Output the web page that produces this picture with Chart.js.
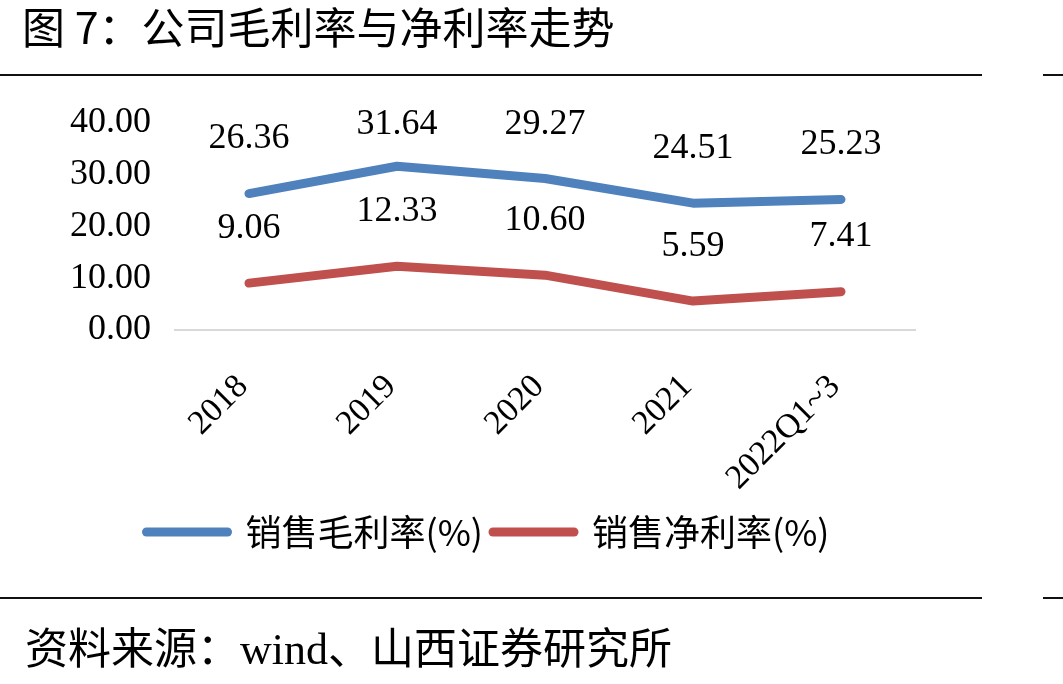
<!DOCTYPE html>
<html>
<head>
<meta charset="utf-8">
<script src="https://cdn.jsdelivr.net/npm/chart.js@4/dist/chart.umd.min.js"></script>
<style>
html,body{margin:0;padding:0;background:#fff;width:1063px;height:684px;overflow:hidden;}
#wrap{position:relative;width:1063px;height:684px;}
#chart{position:absolute;left:0;top:0;}
.title{position:absolute;left:22px;top:-2px;font-family:"Noto Sans CJK SC";font-size:43px;line-height:54px;color:#000;white-space:nowrap;}
.rule{position:absolute;height:2px;background:#111;}
.source{position:absolute;left:25px;top:618px;font-family:"Noto Sans CJK SC";font-size:43px;line-height:54px;color:#000;white-space:nowrap;}
.source .lat{font-family:"Liberation Serif";font-size:44px;}
</style>
</head>
<body>
<div id="wrap">
  <canvas id="chart" width="1063" height="684"></canvas>
  <div class="title">图 7：公司毛利率与净利率走势</div>
  <div class="rule" style="left:0;top:74px;width:982px;"></div>
  <div class="rule" style="left:1043px;top:74px;width:20px;"></div>
  <div class="rule" style="left:0;top:597px;width:982px;"></div>
  <div class="rule" style="left:1043px;top:597px;width:20px;"></div>
  <div class="source">资料来源：<span class="lat">wind</span>、山西证券研究所</div>
</div>
<script>
const categories = ['2018', '2019', '2020', '2021', '2022Q1~3'];
const grossMargin = [26.36, 31.64, 29.27, 24.51, 25.23];
const netMargin = [9.06, 12.33, 10.60, 5.59, 7.41];
const seriesNames = ['销售毛利率(%)', '销售净利率(%)'];
const seriesColors = ['#4F81BD', '#C0504D'];
const yMin = 0, yMax = 40, yStep = 10;

const dataLabels = {
  id: 'dataLabels',
  afterDatasetsDraw(chart) {
    const ctx = chart.ctx;
    ctx.save();
    ctx.font = '36px "Liberation Serif"';
    ctx.fillStyle = '#000';
    ctx.textAlign = 'center';
    ctx.textBaseline = 'middle';
    chart.data.datasets.forEach((ds, di) => {
      const meta = chart.getDatasetMeta(di);
      meta.data.forEach((pt, i) => {
        const y = Math.max(pt.y - 55, chart.chartArea.top + 2);
        ctx.fillText(ds.data[i].toFixed(2), pt.x, y);
      });
    });
    ctx.restore();
  }
};

new Chart(document.getElementById('chart'), {
  type: 'line',
  data: {
    labels: categories,
    datasets: [
      { label: seriesNames[0], data: grossMargin, borderColor: seriesColors[0], backgroundColor: seriesColors[0],
        borderWidth: 9, borderCapStyle: 'round', borderJoinStyle: 'round', pointRadius: 0, pointHoverRadius: 0, tension: 0 },
      { label: seriesNames[1], data: netMargin, borderColor: seriesColors[1], backgroundColor: seriesColors[1],
        borderWidth: 9, borderCapStyle: 'round', borderJoinStyle: 'round', pointRadius: 0, pointHoverRadius: 0, tension: 0 }
    ]
  },
  options: {
    responsive: false,
    animation: false,
    events: [],
    layout: { padding: { top: 123, left: 61, right: 148, bottom: 124 } },
    plugins: {
      tooltip: { enabled: false },
      legend: {
        position: 'bottom',
        labels: {
          usePointStyle: true,
          pointStyle: 'line',
          pointStyleWidth: 81,
          boxWidth: 81,
          boxHeight: 9,
          padding: 10,
          color: '#000',
          font: { family: '"Noto Sans CJK SC"', size: 36 },
          generateLabels(chart) {
            const items = Chart.defaults.plugins.legend.labels.generateLabels(chart);
            items.forEach((it, i) => {
              it.lineCap = 'round';
              it.lineWidth = 9;
              it.strokeStyle = seriesColors[i];
              it.fillStyle = seriesColors[i];
              it.pointStyle = 'line';
            });
            return items;
          }
        }
      }
    },
    scales: {
      x: {
        offset: true,
        grid: { display: false },
        border: { display: true, color: '#D9D9D9', width: 2 },
        ticks: {
          color: '#000',
          font: { family: '"Liberation Serif"', size: 34 },
          minRotation: 45, maxRotation: 45,
          autoSkip: false,
          padding: 29,
          labelOffset: -6
        },
        afterFit(scale) { scale.height = 174; }
      },
      y: {
        min: yMin, max: yMax,
        grid: { display: false },
        border: { display: false },
        ticks: {
          stepSize: yStep,
          color: '#000',
          font: { family: '"Liberation Serif"', size: 36 },
          padding: 16,
          callback: v => Number(v).toFixed(2)
        },
        afterFit(scale) { scale.width = 114; }
      }
    }
  },
  plugins: [dataLabels]
});
</script>
</body>
</html>
